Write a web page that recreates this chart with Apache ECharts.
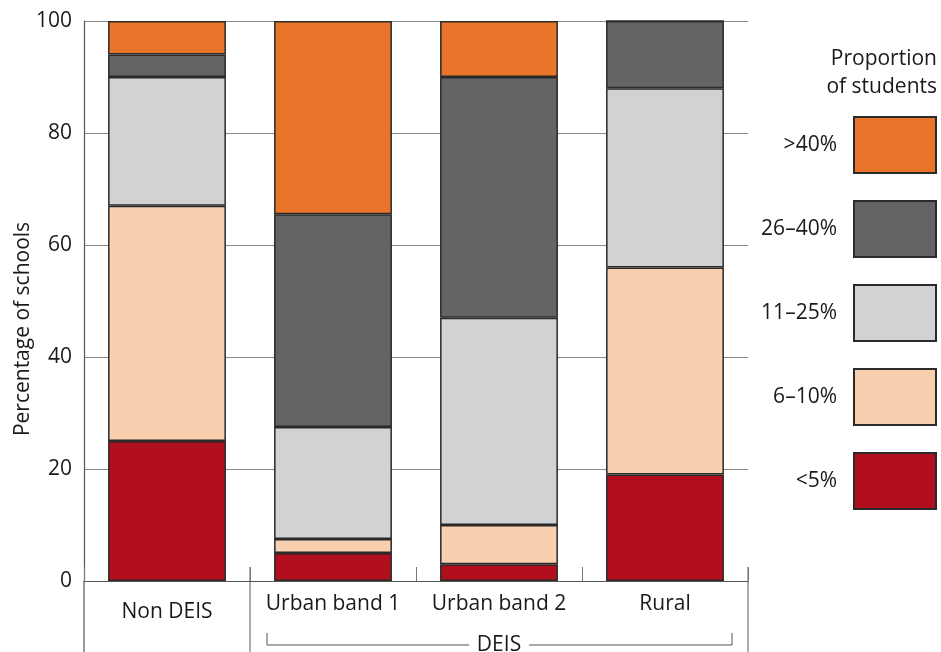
<!DOCTYPE html>
<html><head><meta charset="utf-8">
<script src="https://cdn.jsdelivr.net/npm/echarts@6/dist/echarts.min.js"></script>
<style>html,body{margin:0;padding:0;background:#fff}#c{width:941px;height:652px}</style>
</head><body><div id="c"></div>
<script>
var categories = ['Non DEIS', 'Urban band 1', 'Urban band 2', 'Rural'];
var lt5 = [25, 5, 3, 19];
var p6to10 = [42, 2.5, 7, 37];
var p11to25 = [23, 20, 37, 32];
var p26to40 = [4, 38, 43, 12];
var gt40 = [6, 34.5, 10, 0];
var seriesNames = ['<5%', '6–10%', '11–25%', '26–40%', '>40%'];
var seriesColors = ['#B20F1E', '#F8D0B0', '#D1D2D4', '#646466', '#E87529'];
var yTicks = [0, 20, 40, 60, 80, 100];

var FONT = 'Open Sans';
var FS = 21;
var TXT = '#1a1a1a';
var gridL = 84, gridR = 193, gridT = 21, gridB = 71;
var W = 941, H = 652;
var allData = [lt5, p6to10, p11to25, p26to40, gt40];
var series = allData.map(function (d, i) {
  return {
    name: seriesNames[i], type: 'bar', stack: 'all', barWidth: '71%',
    data: d,
    itemStyle: { color: seriesColors[i], borderColor: '#2a2a2a', borderWidth: 1.5 }
  };
});

var chart = echarts.init(document.getElementById('c'), null, { renderer: 'canvas' });
var plotW = W - gridL - gridR, axisY = H - gridB;
var catW = plotW / categories.length;
var xb = function (i) { return gridL + i * catW; };
var midDeis = (xb(1) + xb(4)) / 2;
var bracketY = 645;

chart.setOption({
  animation: false,
  textStyle: { fontFamily: FONT },
  grid: { left: gridL, right: gridR, top: gridT, bottom: gridB, containLabel: false, outerBoundsMode: 'none' },
  legend: {
    orient: 'vertical', align: 'right', right: 4, top: 116, icon: 'rect', padding: 0,
    itemWidth: 82, itemHeight: 56, itemGap: 26,
    data: seriesNames.slice().reverse(),
    textStyle: { fontSize: FS, color: TXT, fontFamily: FONT, padding: [0, 12, 0, 0] },
    selectedMode: false
  },
  xAxis: {
    type: 'category', data: categories,
    axisLine: { lineStyle: { color: '#555', width: 1.2 } },
    axisTick: { show: true, inside: true, length: 14, lineStyle: { color: '#777' } },
    axisLabel: {
      interval: 0, hideOverlap: false,
      fontSize: FS, color: TXT, margin: 13, fontFamily: FONT,
      formatter: function (v) { return v === 'Non DEIS' ? '{b|' + v + '}' : v; },
      rich: { b: { fontSize: FS, color: TXT, fontFamily: FONT, padding: [8, 0, 0, 0] } }
    }
  },
  yAxis: {
    type: 'value', min: 0, max: 100, interval: 20,
    axisLine: { show: true, lineStyle: { color: '#555', width: 1.2 } },
    axisTick: { show: false },
    axisLabel: { fontSize: FS, color: TXT, margin: 12, fontFamily: FONT,
      formatter: function (v) { return yTicks.indexOf(v) >= 0 ? String(v) : ''; } },
    splitLine: { lineStyle: { color: '#888', width: 1 } }
  },
  graphic: [
    { type: 'text', x: 23, y: 329, rotation: Math.PI / 2, style: { text: 'Percentage of schools', fontSize: 21, fontFamily: FONT, fill: TXT, textAlign: 'center', textVerticalAlign: 'middle' } },
    { type: 'text', x: 937, y: 45, style: { text: 'Proportion\nof students', fontSize: FS, fontFamily: FONT, fill: TXT, textAlign: 'right', lineHeight: 28 } },
    { type: 'line', shape: { x1: xb(0), y1: axisY, x2: xb(0), y2: H }, style: { stroke: '#555', lineWidth: 1.2 } },
    { type: 'line', shape: { x1: xb(1), y1: axisY - 14, x2: xb(1), y2: H }, style: { stroke: '#777', lineWidth: 1.2 } },
    { type: 'line', shape: { x1: xb(4), y1: axisY - 14, x2: xb(4), y2: H }, style: { stroke: '#777', lineWidth: 1.2 } },
    { type: 'polyline', shape: { points: [[xb(1) + 17, bracketY - 12], [xb(1) + 17, bracketY], [midDeis - 30, bracketY]] }, style: { stroke: '#555', lineWidth: 1, fill: null } },
    { type: 'polyline', shape: { points: [[midDeis + 30, bracketY], [xb(4) - 16, bracketY], [xb(4) - 16, bracketY - 12]] }, style: { stroke: '#555', lineWidth: 1, fill: null } },
    { type: 'text', x: midDeis, y: bracketY, style: { text: 'DEIS', fontSize: FS, fontFamily: FONT, fill: TXT, textAlign: 'center', textVerticalAlign: 'middle' } }
  ],
  series: series
});
</script></body></html>
